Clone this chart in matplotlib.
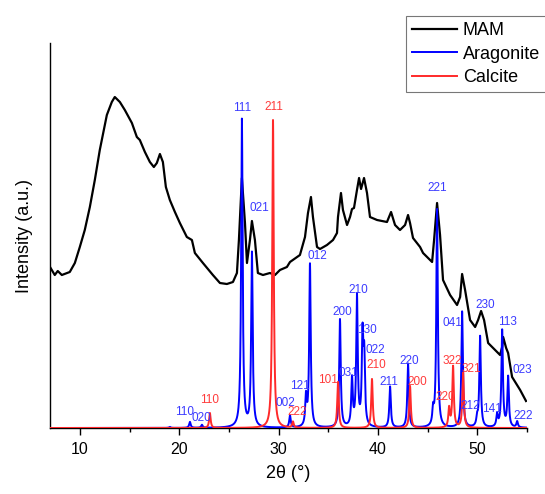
import numpy as np
import matplotlib
matplotlib.use("Agg")
import matplotlib.pyplot as plt

plt.rcParams['font.family'] = ['Liberation Sans', 'DejaVu Sans']

# ---- MAM measured pattern (2theta, intensity a.u.) ----
mam_tt = [7.0, 7.48, 7.78, 8.19, 8.99, 9.50, 10.0, 10.50, 11.01, 11.51, 12.01, 12.72, 13.22, 13.52,
          14.03, 14.53, 15.24, 15.74, 16.04, 16.55, 17.05, 17.45, 17.75, 18.06, 18.36, 18.66, 19.06,
          19.57, 20.07, 20.77, 21.28, 21.58, 22.39, 23.39, 24.10, 24.80, 25.41, 25.81, 26.01, 26.31,
          26.62, 26.82, 27.12, 27.32, 27.62, 27.92, 28.43, 29.13, 29.64, 30.14, 30.84, 31.15, 32.15,
          32.66, 32.96, 33.26, 33.46, 33.87, 34.17, 34.87, 35.48, 35.88, 35.98, 36.28, 36.48, 36.89,
          37.19, 37.39, 37.59, 37.89, 38.10, 38.30, 38.60, 38.90, 39.20, 39.91, 40.91, 41.32, 41.72,
          42.22, 42.73, 43.03, 43.23, 43.53, 44.24, 44.54, 45.45, 45.65, 45.95, 46.25, 46.55, 47.26,
          47.96, 48.27, 48.47, 48.77, 49.27, 49.78, 50.08, 50.38, 50.68, 51.09, 51.79, 52.29, 52.50,
          52.60, 52.90, 53.10, 53.50, 54.31, 54.9]
mam_int = [161, 153, 157, 153, 156, 165, 181, 198, 221, 248, 278, 313, 326, 331,
           326, 318, 305, 291, 288, 276, 266, 261, 265, 274, 266, 241, 228,
           216, 205, 191, 188, 175, 165, 153, 145, 144, 146, 155, 188, 250,
           205, 165, 188, 207, 188, 155, 153, 155, 153, 158, 161, 166, 173,
           191, 215, 231, 211, 181, 179, 183, 188, 195, 211, 235, 218, 203,
           211, 219, 220, 238, 250, 239, 250, 235, 211, 208, 206, 216, 203,
           198, 203, 213, 205, 190, 181, 175, 166, 188, 225, 193, 148, 133,
           123, 131, 154, 138, 108, 101, 108, 117, 108, 85, 78, 73, 81,
           91, 80, 75, 51, 38, 27]

# ---- Aragonite reference peaks ----
ara_pos = [19.06, 21.08, 22.29, 26.31, 27.32, 31.15, 32.76, 33.16, 36.18, 37.39, 37.89, 38.45,
           38.62, 41.22, 43.03, 45.55, 45.95, 48.47, 49.98, 50.28, 51.99, 52.50, 53.10, 54.01]
ara_int = [1, 6, 3, 308, 174, 12, 29, 163, 108, 47, 130, 87,
           65, 41, 64, 15, 218, 116, 8, 91, 12, 97, 50, 6]
ara_lab = ['', '110', '020', '111', '021', '002', '121', '012', '200', '031', '210', '130',
           '022', '211', '220', '', '221', '041', '212', '230', '141', '113', '023', '222']

# ---- Calcite reference peaks ----
cal_pos = [23.09, 29.44, 31.45, 35.98, 39.40, 43.23, 47.16, 47.56, 48.57]
cal_int = [15, 308, 6, 46, 49, 42, 19, 61, 55]
cal_lab = ['110', '211', '222', '101', '210', '200', '220', '322', '321']

# label anchor positions (2theta, height) for the hkl annotations
ara_lab_xy = [None, (20.57, 16), (22.19, 10), (26.31, 320), (28.03, 220), (30.64, 25), (32.15, 42),
              (33.87, 172), (36.38, 116), (36.99, 55), (38.0, 138), (38.9, 98), (39.7, 78),
              (41.1, 46), (43.2, 67), None, (45.95, 240), (47.46, 105), (49.27, 22), (50.78, 123),
              (51.49, 19), (53.0, 106), (54.5, 58), (54.6, 12)]
cal_lab_xy = [(23.09, 28), (29.54, 321), (31.85, 16), (34.97, 48), (39.8, 63), (44.0, 46),
              (46.75, 31), (47.46, 67), (49.37, 59)]

gamma = 0.09
tt = np.arange(7.0, 55.0, 0.005)


def profile(pos, inten):
    y = np.zeros_like(tt)
    for p, h in zip(pos, inten):
        y += h * gamma**2 / ((tt - p)**2 + gamma**2)
    return y


fig = plt.figure(figsize=(5.45, 4.94), dpi=100)
ax = fig.add_axes([50/545, 1-428/494, 477/545, 385/494])

blue = '#0000ff'
red = '#ff2a2a'
lab_blue = '#3b3bff'
lab_red = '#ff3b3b'

ax.plot(mam_tt, mam_int, color='black', lw=1.6, label='MAM', zorder=2)
ax.plot(tt, profile(ara_pos, ara_int), color=blue, lw=1.4, label='Aragonite', zorder=3)
ax.plot(tt, profile(cal_pos, cal_int), color=red, lw=1.4, label='Calcite', zorder=4)

for lab, xy in zip(ara_lab, ara_lab_xy):
    if xy is not None and lab:
        ax.text(xy[0], xy[1], lab, color=lab_blue, fontsize=8.5, ha='center', va='center', zorder=5)
for lab, xy in zip(cal_lab, cal_lab_xy):
    ax.text(xy[0], xy[1], lab, color=lab_red, fontsize=8.5, ha='center', va='center', zorder=5)

ax.set_xlim(7, 55)
ax.set_ylim(0, 385)
ax.set_xticks([10, 20, 30, 40, 50])
ax.set_xticks([15, 25, 35, 45, 55], minor=True)
ax.set_yticks([])
ax.tick_params(axis='x', which='major', direction='out', length=5, labelsize=11.5, width=1, pad=5)
ax.tick_params(axis='x', which='minor', direction='out', length=3, width=1)
for s in ['top', 'right']:
    ax.spines[s].set_visible(False)
ax.spines['left'].set_linewidth(1.0)
ax.spines['bottom'].set_linewidth(1.0)

ax.set_xlabel('2θ (°)', fontsize=13, labelpad=6)
ax.set_ylabel('Intensity (a.u.)', fontsize=13, labelpad=12)

leg = fig.legend(loc='upper left', bbox_to_anchor=(406/545, 1-16/494), fontsize=13,
                 frameon=True, fancybox=False, edgecolor='#555555', handlelength=2.5,
                 borderpad=0.35, labelspacing=0.35, handletextpad=0.3, borderaxespad=0)
leg.get_frame().set_linewidth(0.8)

fig.savefig('out.png', dpi=100)
